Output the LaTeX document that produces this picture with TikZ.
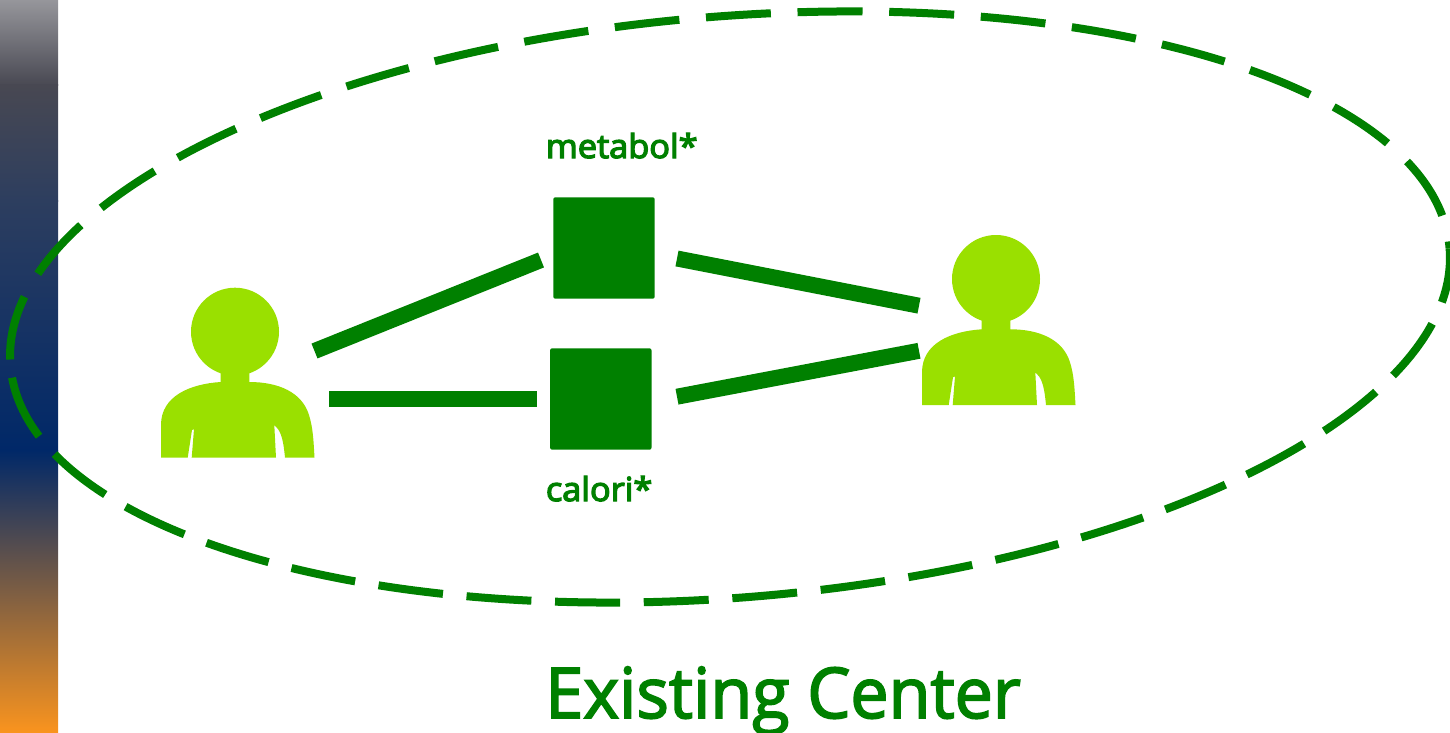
\documentclass[tikz,border=0pt]{standalone}
\usepackage{fontspec}
\setmainfont{Open Sans}
\newfontfamily\titlefont[FakeStretch=0.975,FakeBold=2.5]{Open Sans}
\newfontfamily\labfont[FakeStretch=1.04,FakeBold=4]{Open Sans}
\definecolor{dgreen}{HTML}{008000}
\definecolor{lgreen}{HTML}{9AE000}
\definecolor{barA}{RGB}{150,150,155}
\definecolor{barB}{RGB}{72,72,82}
\definecolor{barC}{RGB}{45,62,95}
\definecolor{barD}{RGB}{0,40,104}
\definecolor{barE}{RGB}{250,148,30}
\tikzset{x=0.5pt,y=-0.5pt,
  link/.style={dgreen,line width=8pt},
  ring/.style={dgreen,line width=4pt},
  sq/.style={fill=dgreen,rounded corners=1pt,minimum size=50.7pt,inner sep=0pt},
  lab/.style={text=dgreen,font=\labfont\fontsize{16.5}{20}\selectfont,anchor=base west,inner sep=0pt},
  bigtitle/.style={text=dgreen,font=\titlefont\fontsize{35}{40}\selectfont,anchor=base west,inner sep=0pt},
}
\newcommand{\personshape}[2]{%
\begin{scope}[shift={(#1,#2)}]
\fill[lgreen] (235,331.7) circle[radius=44];
\fill[lgreen] (220.7,365) -- (220.7,382) .. controls (190,384) and (161,396) .. (161,425) -- (161,457.7) -- (187.7,457.7) -- (192,430) -- (194,429) -- (191.7,457.7) -- (276,457.7) -- (274.3,425) .. controls (280,430) and (283,436) .. (285,457.7) -- (314.5,457.7) .. controls (313.5,440) and (313,428) .. (309,415) .. controls (302,392) and (278,382) .. (249.3,382) -- (249.3,365) -- cycle;
\end{scope}}
\begin{document}
\begin{tikzpicture}
\useasboundingbox (0,0) rectangle (1450,733);
\fill[white] (0,0) rectangle (1450,733);
\shade[top color=barA,bottom color=barB] (0,0) rectangle (58,86);
\shade[top color=barB,bottom color=barC] (0,85) rectangle (58,201);
\shade[top color=barC,bottom color=barD] (0,200) rectangle (58,451);
\shade[top color=barD,bottom color=barE] (0,450) rectangle (58,733);
\begin{scope}[shift={(730,307)},rotate=4.66]
\draw[ring,dash pattern=on 32.5pt off 11.85pt] (177.6:722 and 290.6) arc[start angle=177.6,delta angle=-177.6,x radius=722,y radius=290.6];
\draw[ring,dash pattern=on 32.5pt off 13.35pt,dash phase=29pt] (0:722 and 290.6) arc[start angle=0,delta angle=-180,x radius=722,y radius=290.6];
\end{scope}
\personshape{0}{0}
\personshape{761}{-52.7}
\node[sq] (m) at (604,248) {};
\node[sq] (c) at (600.8,399) {};
\node[lab] (mt) at (545.5,158) {metabol*};
\node[lab] (ct) at (545.5,501) {calori*};
\node[bigtitle] (t) at (545,718) {Existing Center};
\coordinate (a1) at (314.5,351); \coordinate (a2) at (541,260);
\coordinate (b1) at (329,399.3); \coordinate (b2) at (536.7,399.3);
\coordinate (c1) at (677,258.5); \coordinate (c2) at (919,305.7);
\coordinate (d1) at (677,396.7); \coordinate (d2) at (919,350.8);
\draw[link] (a1)--(a2);
\draw[link] (b1)--(b2);
\draw[link] (c1)--(c2);
\draw[link] (d1)--(d2);
\end{tikzpicture}
\end{document}
